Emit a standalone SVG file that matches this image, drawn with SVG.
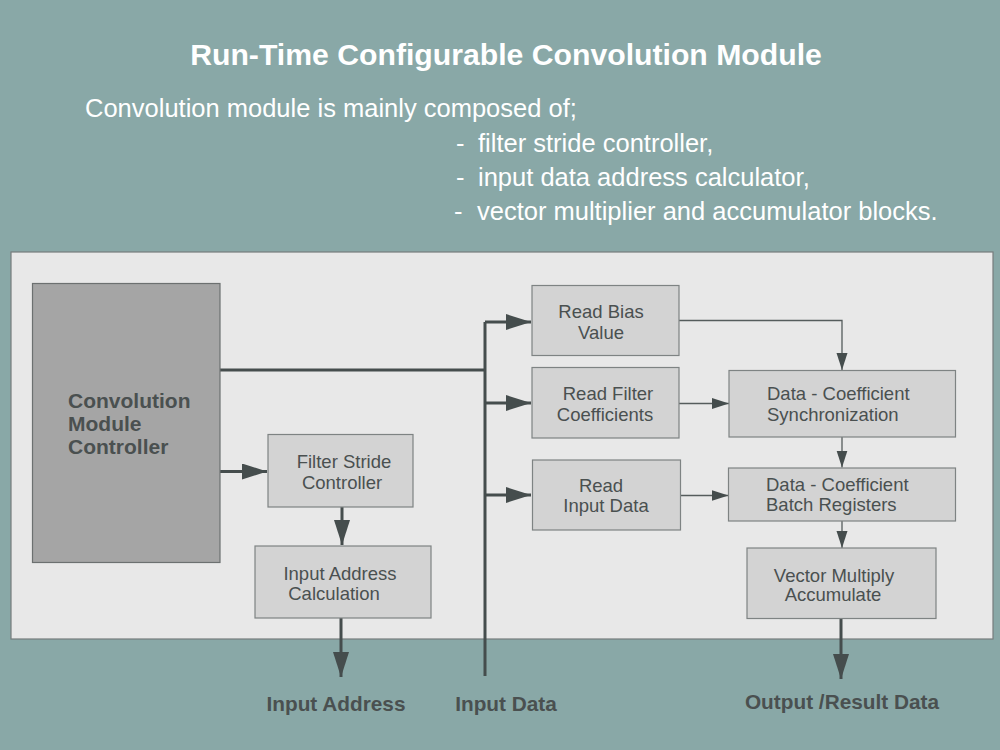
<svg xmlns="http://www.w3.org/2000/svg" width="1000" height="750" viewBox="0 0 1000 750">
<defs>
<style>
.bg{fill:#89a8a7}
.panel{fill:#e8e8e8;stroke:#767c7c;stroke-width:1.2}
.ctrl{fill:#a5a5a5;stroke:#6c7070;stroke-width:1.2}
.box{fill:#d3d3d3;stroke:#7e8383;stroke-width:1.2}
.t{font-family:"Liberation Sans",Arial,sans-serif;fill:#4a5050}
.bt{font-size:18.5px;text-anchor:middle}
.lt{font-size:18.5px}
.ct{font-size:21px;font-weight:bold}
.lab{font-size:20.8px;font-weight:bold;text-anchor:middle}
.w{font-family:"Liberation Sans",Arial,sans-serif;fill:#ffffff}
.thick{fill:none;stroke:#454d4d;stroke-width:3}
.thin{fill:none;stroke:#555c5c;stroke-width:1.3}
</style>
<marker id="big" markerUnits="userSpaceOnUse" markerWidth="26" markerHeight="18" refX="25" refY="8" orient="auto">
<path d="M0,0 L25,8 L0,16 Z" fill="#454d4d"/>
</marker>
<marker id="small" markerUnits="userSpaceOnUse" markerWidth="18" markerHeight="12" refX="17" refY="5.5" orient="auto">
<path d="M0,0 L17,5.5 L0,11 Z" fill="#454d4d"/>
</marker>
</defs>
<rect class="bg" x="0" y="0" width="1000" height="750"/>
<g id="header">
<text class="w" x="506" y="65" font-size="30.2" font-weight="bold" text-anchor="middle">Run-Time Configurable Convolution Module</text>
<text class="w" x="85" y="117" font-size="25.5">Convolution module is mainly composed of;</text>
<text class="w" x="456" y="152" font-size="25.5">-</text>
<text class="w" x="478" y="152" font-size="25.5">filter stride controller,</text>
<text class="w" x="456" y="186" font-size="25.5">-</text>
<text class="w" x="478" y="186" font-size="25.5">input data address calculator,</text>
<text class="w" x="454" y="220" font-size="25.5">-</text>
<text class="w" x="477" y="220" font-size="25.5">vector multiplier and accumulator blocks.</text>
</g>
<rect id="panel" class="panel" x="11" y="252" width="982" height="387"/>
<g id="connectors">
<path class="thick" d="M220,370 H485"/>
<path class="thick" d="M485,676 V322"/>
<path class="thick" d="M485,322 H531" marker-end="url(#big)"/>
<path class="thick" d="M485,403 H531" marker-end="url(#big)"/>
<path class="thick" d="M485,495 H531" marker-end="url(#big)"/>
<path class="thick" d="M220,471.5 H267" marker-end="url(#big)"/>
<path class="thick" d="M342,507 V545" marker-end="url(#big)"/>
<path class="thick" d="M341,618 V677" marker-end="url(#big)"/>
<path class="thick" d="M841,619 V679" marker-end="url(#big)"/>
<path class="thin" d="M679,320.5 H842 V370" marker-end="url(#small)"/>
<path class="thin" d="M679,403.5 H729" marker-end="url(#small)"/>
<path class="thin" d="M680,495.5 H728.5" marker-end="url(#small)"/>
<path class="thin" d="M842,437 V467.5" marker-end="url(#small)"/>
<path class="thin" d="M842,521 V548" marker-end="url(#small)"/>
</g>
<g id="controller">
<rect class="ctrl" x="32.5" y="283.5" width="187.5" height="279"/>
<text class="t ct" x="68" y="408">Convolution</text>
<text class="t ct" x="68" y="431">Module</text>
<text class="t ct" x="68" y="454">Controller</text>
</g>
<g id="filter-stride">
<rect class="box" x="268" y="434.5" width="145" height="72.5"/>
<text class="t bt" x="344" y="468">Filter Stride</text>
<text class="t bt" x="342" y="488.5">Controller</text>
</g>
<g id="input-address-calc">
<rect class="box" x="255" y="546" width="176" height="72"/>
<text class="t bt" x="340" y="580">Input Address</text>
<text class="t bt" x="334" y="600">Calculation</text>
</g>
<g id="read-bias">
<rect class="box" x="532" y="285.5" width="147" height="70"/>
<text class="t bt" x="601" y="318">Read Bias</text>
<text class="t bt" x="601" y="338.5">Value</text>
</g>
<g id="read-filter">
<rect class="box" x="532" y="367.5" width="147" height="70.5"/>
<text class="t bt" x="608" y="400">Read Filter</text>
<text class="t bt" x="605" y="420.5">Coefficients</text>
</g>
<g id="read-input">
<rect class="box" x="532.5" y="460" width="148" height="70"/>
<text class="t bt" x="601" y="491.5">Read</text>
<text class="t bt" x="606" y="512">Input Data</text>
</g>
<g id="sync">
<rect class="box" x="729" y="370.5" width="226.5" height="66.5"/>
<text class="t lt" x="767" y="400">Data - Coefficient</text>
<text class="t lt" x="767" y="421">Synchronization</text>
</g>
<g id="batch">
<rect class="box" x="728.5" y="468" width="227" height="53"/>
<text class="t lt" x="766" y="491">Data - Coefficient</text>
<text class="t lt" x="766" y="511">Batch Registers</text>
</g>
<g id="vma">
<rect class="box" x="747" y="548" width="189" height="70.5"/>
<text class="t bt" x="834" y="582">Vector Multiply</text>
<text class="t bt" x="833" y="601">Accumulate</text>
</g>
<g id="labels">
<text class="t lab" x="336" y="711">Input Address</text>
<text class="t lab" x="506" y="711">Input Data</text>
<text class="t lab" x="842" y="709">Output /Result Data</text>
</g>
</svg>
